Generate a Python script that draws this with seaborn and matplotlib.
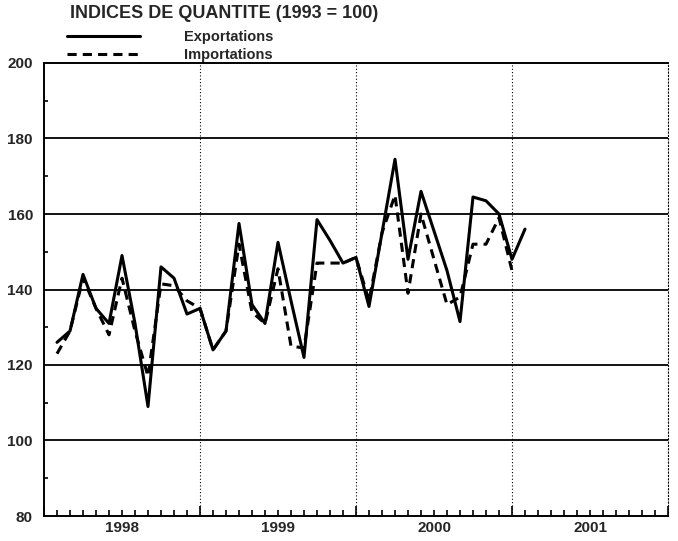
import numpy as np
import pandas as pd
import seaborn as sns
import matplotlib.pyplot as plt
from matplotlib.lines import Line2D
from matplotlib import transforms

# ---- data (monthly) ----
title = "INDICES DE QUANTITE (1993 = 100)"
series_names = ["Exportations", "Importations"]
years = [1998, 1999, 2000, 2001]
start_year = 1998
first_month = 1  # first point: one month after start of 1998

exportations = [126, 129, 144, 135, 131, 149, 131, 109, 146, 143, 133.5, 135,
                124, 129, 157.5, 136, 131, 152.5, 137, 122, 158.5, 153, 147, 148.5,
                135.5, 155, 174.5, 148, 166, 155.5, 145, 131.5, 164.5, 163.5, 160, 148,
                156]
importations = [123, 129, 143, 135, 128, 143, 129, 117, 141.5, 141, 137, 135,
                124, 129, 152, 134, 131, 145.5, 125, 124.5, 147, 147, 147, 148.5,
                137, 155, 165, 139, 160, 148, 136, 138, 152, 152, 159, 145]
yticks = [80, 100, 120, 140, 160, 180, 200]

# ---- tidy frame ----
rows = []
for name, vals in zip(series_names, [exportations, importations]):
    for i, v in enumerate(vals):
        rows.append({"x": start_year + (first_month + i) / 12.0, "value": v, "series": name})
df = pd.DataFrame(rows)

sns.set_theme(style="white")
plt.rcParams['font.family'] = ['Liberation Sans', 'DejaVu Sans']

W, H = 678, 541
fig = plt.figure(figsize=(W / 100, H / 100), dpi=100)
ax = fig.add_axes([44 / W, 1 - 516 / H, (668 - 44) / W, (516 - 63) / H])

dash_pat = (3.0, 2.0)
sns.lineplot(data=df, x="x", y="value", hue="series", style="series",
             palette={"Exportations": "black", "Importations": "black"},
             dashes={"Exportations": "", "Importations": dash_pat},
             linewidth=2.2, legend=False, ax=ax, zorder=5)

ax.set_xlim(years[0], years[-1] + 1)
ax.set_ylim(yticks[0], yticks[-1])

# horizontal grid lines
for y in yticks[1:-1]:
    ax.axhline(y, color="black", linewidth=1.3, zorder=2)
# vertical dotted year separators
for yr in years[1:]:
    ax.axvline(yr, color="black", linewidth=0.8, linestyle=(0, (1, 2)), zorder=2)

# spines
for s in ["left", "bottom", "top"]:
    ax.spines[s].set_color("black")
    ax.spines[s].set_linewidth(1.4)
ax.spines["right"].set_color("black")
ax.spines["right"].set_linewidth(0.8)
ax.spines["right"].set_linestyle((0, (1, 2)))

# y ticks
ax.set_yticks(yticks)
ax.set_yticklabels([str(v) for v in yticks], fontsize=11, fontweight="bold")
ax.set_yticks(np.arange(yticks[0] + 10, yticks[-1], 20), minor=True)
ax.tick_params(axis="y", which="both", left=True, right=False)
ax.tick_params(axis="y", which="major", direction="in", length=0, pad=8)
ax.tick_params(axis="y", which="minor", direction="in", length=3, width=1.2, color="black")

# x ticks: year boundaries (major) and months (minor)
ax.set_xticks(years + [years[-1] + 1])
ax.set_xticklabels([])
ax.set_xticks([years[0] + m / 12 for m in range(1, 12 * len(years))], minor=True)
ax.tick_params(axis="x", which="both", bottom=True, top=False)
ax.tick_params(axis="x", which="major", direction="in", length=7, width=1.2, color="black")
ax.tick_params(axis="x", which="minor", direction="in", length=4, width=1.2, color="black")
ax.set_xlabel("")
ax.set_ylabel("")

trans = transforms.blended_transform_factory(ax.transData, ax.transAxes)
for yr in years:
    ax.text(yr + 0.5, -0.01, str(yr), transform=trans, ha="center", va="top",
            fontsize=11, fontweight="bold")

# title and legend
fig.text(70 / W, 1 - 13 / H, title, ha="left", va="center", fontsize=13,
         fontweight="bold")
handles = [Line2D([], [], color="black", linewidth=2.2),
           Line2D([], [], color="black", linewidth=2.2, dashes=dash_pat)]
leg = ax.legend(handles, series_names, loc="upper left",
                bbox_to_anchor=(60 / W, 1 - 23 / H), bbox_transform=fig.transFigure,
                frameon=False, borderpad=0, handlelength=5.0, handletextpad=3.0,
                labelspacing=0.25, prop={"size": 10.5, "weight": "bold"})

fig.savefig("out.png", dpi=100)
